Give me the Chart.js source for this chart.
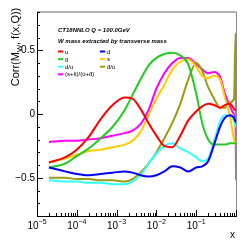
<!DOCTYPE html>
<html>
<head>
<meta charset="utf-8">
<script src="https://cdn.jsdelivr.net/npm/chart.js@4"></script>
<style>
  html, body { margin: 0; padding: 0; background: #fff; }
  #wrap { width: 249px; height: 243px; }
</style>
</head>
<body>
<div id="wrap"><canvas id="myChart" width="249" height="243"></canvas></div>
<script>
// log10(x) de los puntos leídos
const xLog = [-4.7, -4.3, -4.0, -3.7, -3.4, -3.1, -2.8, -2.6, -2.4, -2.2, -2.0, -1.8, -1.6,
  -1.4, -1.2, -1.0, -0.85, -0.7, -0.55, -0.4, -0.28, -0.15, -0.05, -0.01, 0];

const uVals = [-0.38, -0.34, -0.28, -0.18, -0.04, 0.07, 0.13, 0.12, 0.04, -0.07, -0.17, -0.25, -0.26,
  -0.17, -0.05, 0.02, 0.06, 0.08, 0.07, 0.05, 0.07, 0.08, 0.04, 0.03, 0.03];
const dVals = [-0.42, -0.45, -0.47, -0.48, -0.47, -0.46, -0.45, -0.46, -0.48, -0.49, -0.48, -0.45, -0.41,
  -0.42, -0.45, -0.42, -0.41, -0.37, -0.24, -0.10, -0.03, -0.01, -0.03, -0.06, -0.06];
const gVals = [-0.42, -0.39, -0.33, -0.27, -0.19, -0.10, 0.03, 0.15, 0.27, 0.38, 0.44, 0.47, 0.48,
  0.46, 0.39, 0.16, -0.07, -0.20, -0.24, -0.24, -0.24, -0.23, -0.23, -0.23, -0.23];
const sVals = [-0.38, -0.35, -0.32, -0.29, -0.28, -0.26, -0.24, -0.21, -0.14, -0.01, 0.12, 0.23, 0.35,
  0.41, 0.43, 0.37, 0.30, 0.28, 0.30, 0.27, 0.13, -0.02, -0.20, -0.23, -0.23];
const duVals = [-0.52, -0.53, -0.53, -0.54, -0.54, -0.55, -0.55, -0.53, -0.48, -0.39, -0.31, -0.25, -0.23,
  -0.27, -0.30, -0.34, -0.37, -0.35, -0.21, -0.06, -0.01, -0.02, -0.05, -0.10, -0.10];
const dbubVals = [-0.50, -0.50, -0.51, -0.51, -0.52, -0.52, -0.53, -0.51, -0.46, -0.39, -0.30, -0.19, -0.07,
  0.08, 0.27, 0.40, 0.34, 0.21, 0.12, 0.05, 0.05, 0.09, 0.12, 0.63, -0.52];
const ssVals = [-0.22, -0.21, -0.21, -0.20, -0.19, -0.17, -0.15, -0.13, -0.08, 0.03, 0.20, 0.32, 0.40,
  0.44, 0.44, 0.39, 0.35, 0.32, 0.33, 0.29, 0.16, 0.06, 0.00, -0.05, -0.41];

const seriesNames = ["u", "d", "g", "s", "d/u", "d\u0304/u\u0304", "(s+s\u0304)/(u\u0304+d\u0304)"];
const seriesColors = ["#ff0000", "#0000ff", "#22cc22", "#ffcc00", "#33ffff", "#9c9a10", "#ff00ff"];
const seriesValues = [uVals, dVals, gVals, sVals, duVals, dbubVals, ssVals];

const yTickLabels = [-0.5, 0, 0.5];
const xDecades = [-5, -4, -3, -2, -1, 0];
const xLabelDecades = [-5, -4, -3, -2, -1];

const titleLine1 = "CT18NNLO Q = 100.0GeV";
const titleLine2 = "W mass extracted by transverse mass";

//armando los datasets
const datasets = seriesValues.map((vals, i) => ({
  label: seriesNames[i],
  data: vals.map((v, j) => ({ x: Math.pow(10, xLog[j]), y: v })),
  borderColor: seriesColors[i],
  borderWidth: 2,
  pointRadius: 0,
  cubicInterpolationMode: "monotone",
  fill: false,
}));

//marco, ticks hacia adentro, textos estilo ROOT
const rootStyle = {
  id: "rootStyle",
  afterDraw(chart) {
    const ctx = chart.ctx;
    const a = chart.chartArea;
    const xs = chart.scales.x;
    const ys = chart.scales.y;
    ctx.save();

    // marco superior y derecho
    ctx.strokeStyle = "#b4b4b4";
    ctx.lineWidth = 2;
    ctx.beginPath();
    ctx.moveTo(a.left, a.top);
    ctx.lineTo(a.right, a.top);
    ctx.stroke();
    ctx.strokeStyle = "#8a8a8a";
    ctx.lineWidth = 1;
    ctx.beginPath();
    ctx.moveTo(a.right + 0.5, a.top);
    ctx.lineTo(a.right + 0.5, a.bottom);
    ctx.stroke();

    // ticks del eje y
    ctx.strokeStyle = "#000";
    ctx.lineWidth = 1;
    ctx.beginPath();
    for (let k = -8; k <= 8; k++) {
      const py = Math.round(ys.getPixelForValue(k / 10)) + 0.5;
      const len = k % 5 === 0 ? 6 : 3;
      ctx.moveTo(a.left, py);
      ctx.lineTo(a.left + len, py);
    }
    // ticks del eje x
    xDecades.forEach((d) => {
      for (let m = 1; m <= 9; m++) {
        const v = m * Math.pow(10, d);
        if (v > 1.0001) break;
        const px = Math.round(xs.getPixelForValue(v)) + 0.5;
        const len = m === 1 ? 6 : 3;
        ctx.moveTo(px, a.bottom);
        ctx.lineTo(px, a.bottom - len);
      }
    });
    ctx.stroke();

    // etiquetas del eje x
    ctx.fillStyle = "#000";
    ctx.textBaseline = "alphabetic";
    xLabelDecades.forEach((d) => {
      const px = xs.getPixelForValue(Math.pow(10, d));
      ctx.font = "10px 'Liberation Sans', Arial, sans-serif";
      const w1 = ctx.measureText("10").width;
      ctx.font = "7px 'Liberation Sans', Arial, sans-serif";
      const exp = "\u2212" + Math.abs(d);
      const w2 = ctx.measureText(exp).width;
      const x0 = px - (w1 + w2) / 2;
      ctx.font = "10px 'Liberation Sans', Arial, sans-serif";
      ctx.textAlign = "left";
      ctx.fillText("10", x0, 229);
      ctx.font = "7px 'Liberation Sans', Arial, sans-serif";
      ctx.fillText(exp, x0 + w1, 224);
    });
    ctx.font = "10px 'Liberation Sans', Arial, sans-serif";
    ctx.fillText("x", 230, 238);

    // titulo del eje y
    ctx.save();
    ctx.translate(19, 0);
    ctx.rotate(-Math.PI / 2);
    const big = "11px 'Liberation Sans', Arial, sans-serif";
    const small = "7.5px 'Liberation Sans', Arial, sans-serif";
    ctx.font = big;
    const p1 = "Corr(M", p3 = ", f(x,Q))";
    const w1 = ctx.measureText(p1).width;
    const w3 = ctx.measureText(p3).width;
    ctx.font = small;
    const w2 = ctx.measureText("W").width;
    let tx = -47 - (w1 + w2 + w3) / 2;
    ctx.font = big;
    ctx.fillText(p1, tx, 0);
    ctx.font = small;
    ctx.fillText("W", tx + w1, 2.5);
    ctx.font = big;
    ctx.fillText(p3, tx + w1 + w2, 0);
    ctx.restore();

    // textos de la leyenda
    ctx.font = "bold italic 6px 'Liberation Sans', Arial, sans-serif";
    ctx.fillText(titleLine1, 58, 32);
    ctx.fillText(titleLine2, 58, 43);

    ctx.font = "6px 'Liberation Sans', Arial, sans-serif";
    seriesNames.forEach((name, i) => {
      const col = i % 2;
      const row = Math.floor(i / 2);
      const lx = col === 0 ? 58 : 100;
      const ly = 51.5 + row * 7.6;
      ctx.strokeStyle = seriesColors[i];
      ctx.lineWidth = 2;
      ctx.beginPath();
      ctx.moveTo(lx, ly);
      ctx.lineTo(lx + 5, ly);
      ctx.stroke();
      ctx.fillStyle = "#000";
      ctx.fillText(name, lx + 7, ly + 2);
    });
    ctx.restore();
  },
};

const ctx = document.getElementById("myChart").getContext("2d");
const myChart = new Chart(ctx, {
  type: "line",
  data: { datasets: datasets },
  options: {
    responsive: false,
    animation: false,
    events: [],
    layout: { padding: { left: 0, right: 13, top: 12, bottom: 0 } },
    plugins: { legend: { display: false }, tooltip: { enabled: false } },
    scales: {
      x: {
        type: "logarithmic",
        min: 1e-5,
        max: 1,
        grid: { display: false, drawTicks: false },
        border: { display: true, color: "#000", width: 1 },
        ticks: { display: false },
        afterFit: (scale) => { scale.height = 27; },
      },
      y: {
        type: "linear",
        min: -0.8,
        max: 0.8,
        grid: { display: false, drawTicks: false },
        border: { display: true, color: "#000", width: 1 },
        afterBuildTicks: (scale) => { scale.ticks = yTickLabels.map((v) => ({ value: v })); },
        ticks: {
          padding: 2,
          color: "#000",
          font: { family: "'Liberation Sans', Arial, sans-serif", size: 10 },
          callback: (v) => (v < 0 ? "\u2212" + Math.abs(v) : String(v)),
        },
        afterFit: (scale) => { scale.width = 37; },
      },
    },
  },
  plugins: [rootStyle],
});
</script>
</body>
</html>
